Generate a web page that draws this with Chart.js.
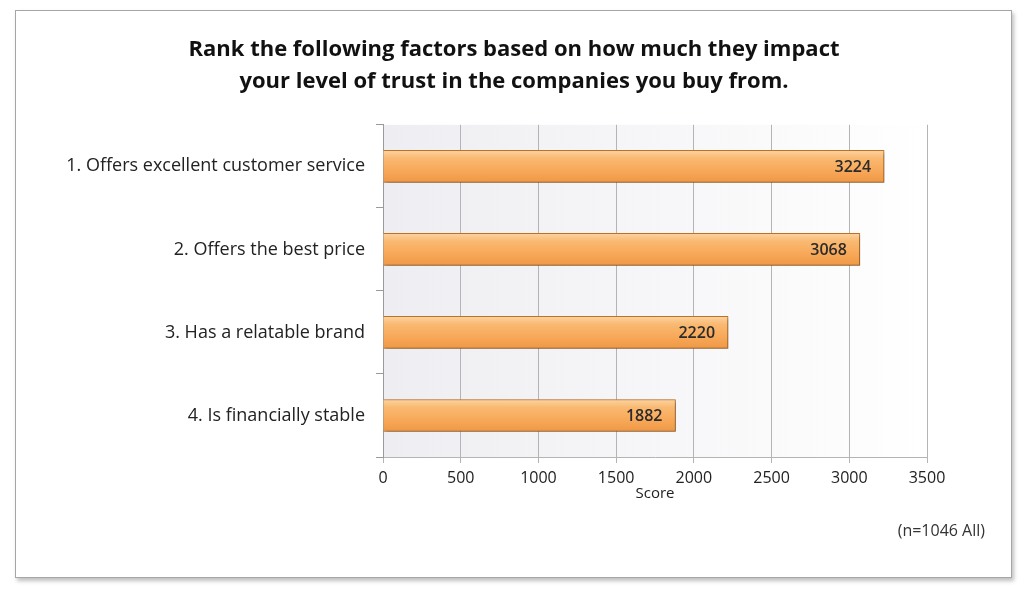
<!DOCTYPE html>
<html>
<head>
<meta charset="utf-8">
<script src="https://cdn.jsdelivr.net/npm/chart.js@4.4.1/dist/chart.umd.min.js"></script>
<style>
    html, body { margin: 0; padding: 0; background: #ffffff; }
    body { width: 1024px; height: 589px; position: relative; overflow: hidden; }
    .frame {
        position: absolute; left: 15px; top: 10px; width: 995px; height: 566px;
        border: 1px solid #a6a6a6; background: #fff;
        box-shadow: 2px 3px 4px rgba(0, 0, 0, 0.25);
    }
    .frame canvas { position: absolute; left: 0; top: 0; }
    .note {
        position: absolute; right: 26px; top: 508px;
        font: 16px "Open Sans", "Liberation Sans", sans-serif; color: #333;
    }
</style>
</head>
<body>
<div class="frame">
    <canvas id="trustChart" width="995" height="566"></canvas>
    <div class="note">(n=1046 All)</div>
</div>
<script>
// Data
const factors = [
    '1. Offers excellent customer service',
    '2. Offers the best price',
    '3. Has a relatable brand',
    '4. Is financially stable'
];
const scores = [3224, 3068, 2220, 1882];
const scoreTicks = [0, 500, 1000, 1500, 2000, 2500, 3000, 3500];
const titleLines = [
    'Rank the following factors based on how much they impact',
    'your level of trust in the companies you buy from.'
];

const fontFamily = '"Open Sans", "Liberation Sans", sans-serif';
const barHeight = 32;

// Bar gradient per bar
function barGradient(context) {
    const chart = context.chart;
    const yScale = chart.scales.y;
    if (!chart.chartArea || !yScale) return '#f8ad60';
    const cy = yScale.getPixelForValue(context.dataIndex);
    if (!isFinite(cy)) return '#f8ad60';
    const g = chart.ctx.createLinearGradient(0, cy - barHeight / 2, 0, cy + barHeight / 2);
    g.addColorStop(0, '#fcd3a0');
    g.addColorStop(0.25, '#f9b971');
    g.addColorStop(0.6, '#f8aa5b');
    g.addColorStop(1, '#ef9845');
    return g;
}

// Plugins
const plotBackground = {
    id: 'plotBackground',
    beforeDraw(chart) {
        const { ctx, chartArea: a } = chart;
        const g = ctx.createLinearGradient(a.left, 0, a.right, 0);
        g.addColorStop(0, '#eeeef2');
        g.addColorStop(1, '#ffffff');
        ctx.save();
        ctx.fillStyle = g;
        ctx.fillRect(a.left, a.top, a.right - a.left, a.bottom - a.top);
        ctx.restore();
    }
};

const barShadow = {
    id: 'barShadow',
    beforeDatasetDraw(chart) {
        const ctx = chart.ctx;
        ctx.save();
        ctx.shadowColor = 'rgba(0, 0, 0, 0.35)';
        ctx.shadowBlur = 4;
        ctx.shadowOffsetX = 2;
        ctx.shadowOffsetY = 2;
    },
    afterDatasetDraw(chart) {
        chart.ctx.restore();
    }
};

const valueLabels = {
    id: 'valueLabels',
    afterDatasetsDraw(chart) {
        const ctx = chart.ctx;
        const meta = chart.getDatasetMeta(0);
        ctx.save();
        ctx.font = '600 16px ' + fontFamily;
        ctx.fillStyle = '#2b2b2b';
        ctx.textAlign = 'right';
        ctx.textBaseline = 'middle';
        meta.data.forEach((bar, i) => {
            ctx.fillText(String(scores[i]), bar.x - 13, bar.y + 1);
        });
        ctx.restore();
    }
};

// Chart
const trustCtx = document.getElementById('trustChart').getContext('2d');
const trustChart = new Chart(trustCtx, {
    type: 'bar',
    data: {
        labels: factors,
        datasets: [{
            data: scores,
            backgroundColor: barGradient,
            borderColor: '#c57629',
            borderWidth: 1,
            barThickness: barHeight
        }]
    },
    options: {
        indexAxis: 'y',
        responsive: false,
        animation: false,
        layout: {
            padding: { left: 1, right: 0, top: 0, bottom: 74 }
        },
        plugins: {
            legend: { display: false },
            tooltip: { enabled: false },
            title: {
                display: true,
                text: titleLines,
                color: '#111',
                font: { family: fontFamily, size: 22, weight: 'bold', lineHeight: 1.45 },
                padding: { top: 23, bottom: 27 }
            }
        },
        scales: {
            x: {
                min: 0,
                max: 3500,
                afterBuildTicks: (axis) => {
                    axis.ticks = scoreTicks.map(v => ({ value: v }));
                },
                afterFit: (axis) => { axis.height = 46; },
                grid: {
                    color: '#b4b4b4',
                    tickLength: 6,
                    tickColor: '#b4b4b4'
                },
                border: { color: '#b4b4b4' },
                ticks: {
                    color: '#222',
                    padding: 6,
                    font: { family: fontFamily, size: 16 },
                    callback: (v) => String(v)
                },
                title: {
                    display: true,
                    text: 'Score',
                    color: '#222',
                    font: { family: fontFamily, size: 15 },
                    padding: { top: 0, bottom: 0 }
                }
            },
            y: {
                afterFit: (axis) => { axis.width = 366; },
                grid: {
                    offset: true,
                    drawOnChartArea: false,
                    tickLength: 7,
                    tickColor: '#9a9a9a'
                },
                border: { color: '#9a9a9a' },
                ticks: {
                    color: '#222',
                    padding: 11,
                    font: { family: fontFamily, size: 18 }
                }
            },
            // empty right-hand space so the title stays centred on the frame
            spacer: {
                type: 'linear',
                position: 'right',
                afterFit: (axis) => { axis.width = 84; },
                grid: { display: false },
                border: { display: false },
                ticks: { display: false }
            }
        }
    },
    plugins: [plotBackground, barShadow, valueLabels]
});
</script>
</body>
</html>
